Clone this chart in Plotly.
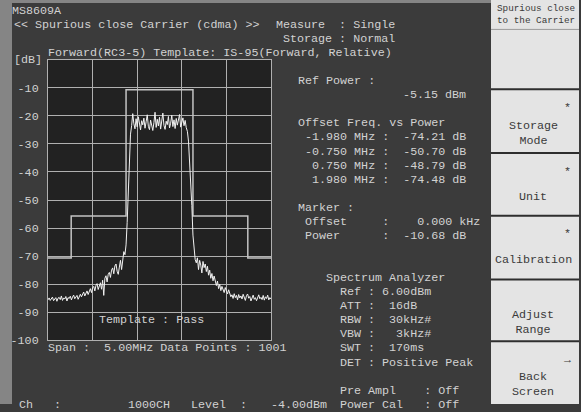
import numpy as np
import plotly.graph_objects as go

W, H = 581, 412

# ---- data ----
span_mhz = 5.0
n_pts = 201
freq = np.linspace(-span_mhz / 2, span_mhz / 2, n_pts)
level_db = [
    -85.6, -84.9, -85.8, -85.1, -84.6, -85.9, -85.2, -84.8, -86.1, -85.0,
    -84.7, -85.5, -84.2, -85.8, -84.9, -85.3, -84.4, -86.0, -84.8, -85.1,
    -84.3, -85.6, -84.6, -83.9, -85.2, -84.5, -84.0, -85.4, -84.1,
    -83.6, -84.5, -83.2, -82.8, -84.2, -83.0, -82.4, -83.7, -82.1, -81.6,
    -83.0, -81.3, -80.8, -82.4, -80.5, -79.8, -81.9, -80.2,
    -79.5, -81.8, -78.6, -84.0, -77.9, -77.0, -79.2, -76.5, -75.8, -77.6,
    -75.0, -74.2, -76.3, -73.5, -72.8, -75.4, -76.5, -73.9, -71.5, -74.8,
    -70.2, -68.4, -69.5,
    -66.0, -58.0, -45.0, -33.0, -26.5,
    -23.5, -19.2, -22.8, -24.6, -21.0, -23.9, -20.3, -22.5, -25.0, -21.7,
    -23.2, -20.8, -24.4, -22.1, -19.6, -23.7, -24.9, -21.5, -23.0, -25.2,
    -22.4, -18.7, -24.1, -21.2, -23.6, -20.5, -24.7, -22.0, -19.0, -23.4,
    -24.8, -21.9, -23.1, -20.2, -24.3, -22.6, -19.8, -23.8, -21.4, -24.5,
    -20.9, -23.3, -21.8, -19.5, -24.0, -22.3, -20.7, -23.5, -21.6, -24.2, -25.5,
    -29.0, -36.0, -41.5, -52.0, -62.5, -69.0, -71.2,
    -72.4, -70.6, -74.8, -71.5, -73.2, -76.0, -71.9, -74.1, -72.8, -75.5,
    -73.6, -76.8, -75.0, -77.9, -76.2, -78.8, -77.1, -79.6,
    -80.5, -78.9, -81.6, -80.0, -82.3, -80.8, -81.7, -83.0, -81.2, -82.6, -83.5, -82.0,
    -83.2, -84.5, -83.8, -85.1, -83.4, -84.8, -84.0, -85.6, -83.7, -84.9,
    -84.2, -85.3, -83.6, -84.7, -85.8, -84.1, -83.5, -85.0, -84.4, -86.0,
    -84.6, -83.9, -85.4, -84.8, -85.9, -84.3, -83.8, -85.2, -84.7, -85.5,
    -84.0, -85.7, -84.5, -85.1, -83.9, -85.6, -84.8, -85.3,
]
template_x = [-2.5, -1.98, -1.98, -0.75, -0.75, 0.75, 0.75, 1.98, 1.98, 2.5]
template_y = [-70.68, -70.68, -55.68, -55.68, -10.68, -10.68, -55.68, -55.68, -70.68, -70.68]
y_ticks = [-10, -20, -30, -40, -50, -60, -70, -80, -90, -100]
y_ticktext = [str(v) for v in y_ticks]

offset_freqs = ["-1.980", "-0.750", " 0.750", " 1.980"]
offset_powers = ["-74.21", "-50.70", "-48.79", "-74.48"]
buttons = ["", "Storage<br>Mode", "Unit", "Calibration", "Adjust<br>Range", "Back<br>Screen"]
button_marks = ["", "*", "*", "*", "", "\u2192"]

# ---- style ----
BG = "#3b3b3b"
PLOT_BG = "#222222"
GRID = "#b0b0b0"
TXT = "#d2d2d2"
PANEL = "#e4e4e4"
BTXT = "#3a3a3a"
FONT = "Liberation Mono"
FS = 11.7
CW = 7.05

fig = go.Figure()
fig.add_trace(go.Scatter(x=template_x, y=template_y, mode="lines",
                         line=dict(color="#c4c4c4", width=1.5), hoverinfo="skip"))
fig.add_trace(go.Scatter(x=freq, y=level_db, mode="lines",
                         line=dict(color="#f2f2f2", width=1), hoverinfo="skip"))

def px(x):
    return x / W

def py(y):
    return 1 - y / H

def row(n):
    return 11 + 14.35 * n

def col(c):
    return 296.7 + CW * c

anns = []

def txt(s, x, y, color=TXT, size=FS, xanchor="left"):
    anns.append(dict(text=s.replace(" ", "\u00a0"), x=px(x), y=py(y), xref="paper", yref="paper",
                     xanchor=xanchor, yanchor="middle", showarrow=False, borderpad=0,
                     font=dict(family=FONT, size=size, color=color)))

txt("MS8609A", 11, row(0))
txt("<< Spurious close Carrier (cdma) >>", 13, row(1))
txt("Measure  : Single", 275, row(1))
txt(" Storage : Normal", 275, row(2))
txt("Forward(RC3-5) Template: IS-95(Forward, Relative)", 47, row(3))
txt("[dB]", 13, 61)
txt("Ref Power :", col(0), row(5))
txt("-5.15 dBm", col(15), row(6))
txt("Offset Freq. vs Power", col(0), row(8))
for i, (f, p) in enumerate(zip(offset_freqs, offset_powers)):
    txt(" " + f + " MHz :  " + p + " dB", col(0), row(9 + i))
txt("Marker :", col(0), row(14))
txt(" Offset     :    0.000 kHz", col(0), row(15))
txt(" Power      :  -10.68 dB", col(0), row(16))
txt("Spectrum Analyzer", col(4), row(19))
txt("Ref : 6.00dBm", col(6), row(20))
txt("ATT :  16dB", col(6), row(21))
txt("RBW :  30kHz#", col(6), row(22))
txt("VBW :   3kHz#", col(6), row(23))
txt("SWT :  170ms", col(6), row(24))
txt("DET : Positive Peak", col(6), row(25))
txt("Pre Ampl    : Off", col(6), row(27))
txt("Power Cal   : Off", col(6), row(28))
txt("Span :  5.00MHz Data Points : 1001", 47, row(24))
txt("Template : Pass", 98, row(22))
txt("Ch   :", 18, row(28))
txt("1000CH", 127, row(28))
txt("Level  :", 190, row(28))
txt("-4.00dBm", 270, row(28))

# right panel texts
txt("Spurious close", 536, 9, color=BTXT, size=9.3, xanchor="center")
txt("to the Carrier", 536, 20.5, color=BTXT, size=9.3, xanchor="center")
btn_tops = [31, 92, 157, 221, 286, 349]
btn_bots = [91, 156, 220, 285, 348, 412]
for i, (b, m) in enumerate(zip(buttons, button_marks)):
    t, bt = btn_tops[i], btn_bots[i]
    if b:
        anns.append(dict(text=b, x=px(533), y=py((t + bt) / 2 + 12), xref="paper", yref="paper",
                         xanchor="center", yanchor="middle", showarrow=False, borderpad=0,
                         font=dict(family=FONT, size=FS, color=BTXT)))
    if m:
        txt(m, 567, t + 18, color=BTXT, size=FS, xanchor="center")

shapes = []
def rect(x0, y0, x1, y1, color, layer="below"):
    shapes.append(dict(type="rect", xref="paper", yref="paper", x0=px(x0), x1=px(x1),
                       y0=py(y1), y1=py(y0), fillcolor=color, line=dict(width=0), layer=layer))

def hline(x0, x1, y, color, w):
    shapes.append(dict(type="line", xref="paper", yref="paper", x0=px(x0), x1=px(x1),
                       y0=py(y), y1=py(y), line=dict(color=color, width=w), layer="above"))

rect(0, 0, W, 3, "#858585")
rect(0, 0, 12, H, "#858585")
rect(491, 0, W, H, PANEL)
hline(491, W, 30, "#9a9a9a", 1)
for t in btn_tops[1:]:
    hline(491, W, t - 1, "#2e2e2e", 2)
shapes.append(dict(type="line", xref="paper", yref="paper", x0=px(580), x1=px(580), y0=0, y1=1,
                   line=dict(color="#3a3a3a", width=2), layer="above"))

fig.update_layout(
    width=W, height=H, margin=dict(l=0, r=0, t=0, b=0),
    paper_bgcolor=BG, plot_bgcolor=PLOT_BG, showlegend=False,
    annotations=anns, shapes=shapes,
    xaxis=dict(domain=[48 / W, 271 / W], range=[-2.5, 2.5], tickvals=[-1.5, -0.5, 0.5, 1.5],
               showticklabels=False, showgrid=True, gridcolor=GRID, gridwidth=1,
               showline=True, linecolor=GRID, linewidth=1, mirror=True, zeroline=False, ticks=""),
    yaxis=dict(domain=[1 - 347 / H, 1 - 61 / H], range=[-100, 0], tickvals=y_ticks, ticktext=y_ticktext,
               showgrid=True, gridcolor=GRID, gridwidth=1, showline=True, linecolor=GRID, linewidth=1,
               mirror=True, zeroline=False, ticks="", ticklabelstandoff=6,
               tickfont=dict(family=FONT, size=FS, color=TXT)),
)

fig.write_html("out.html", config={"displayModeBar": False},
               post_script="document.body.style.margin='0';document.body.style.padding='0';")
